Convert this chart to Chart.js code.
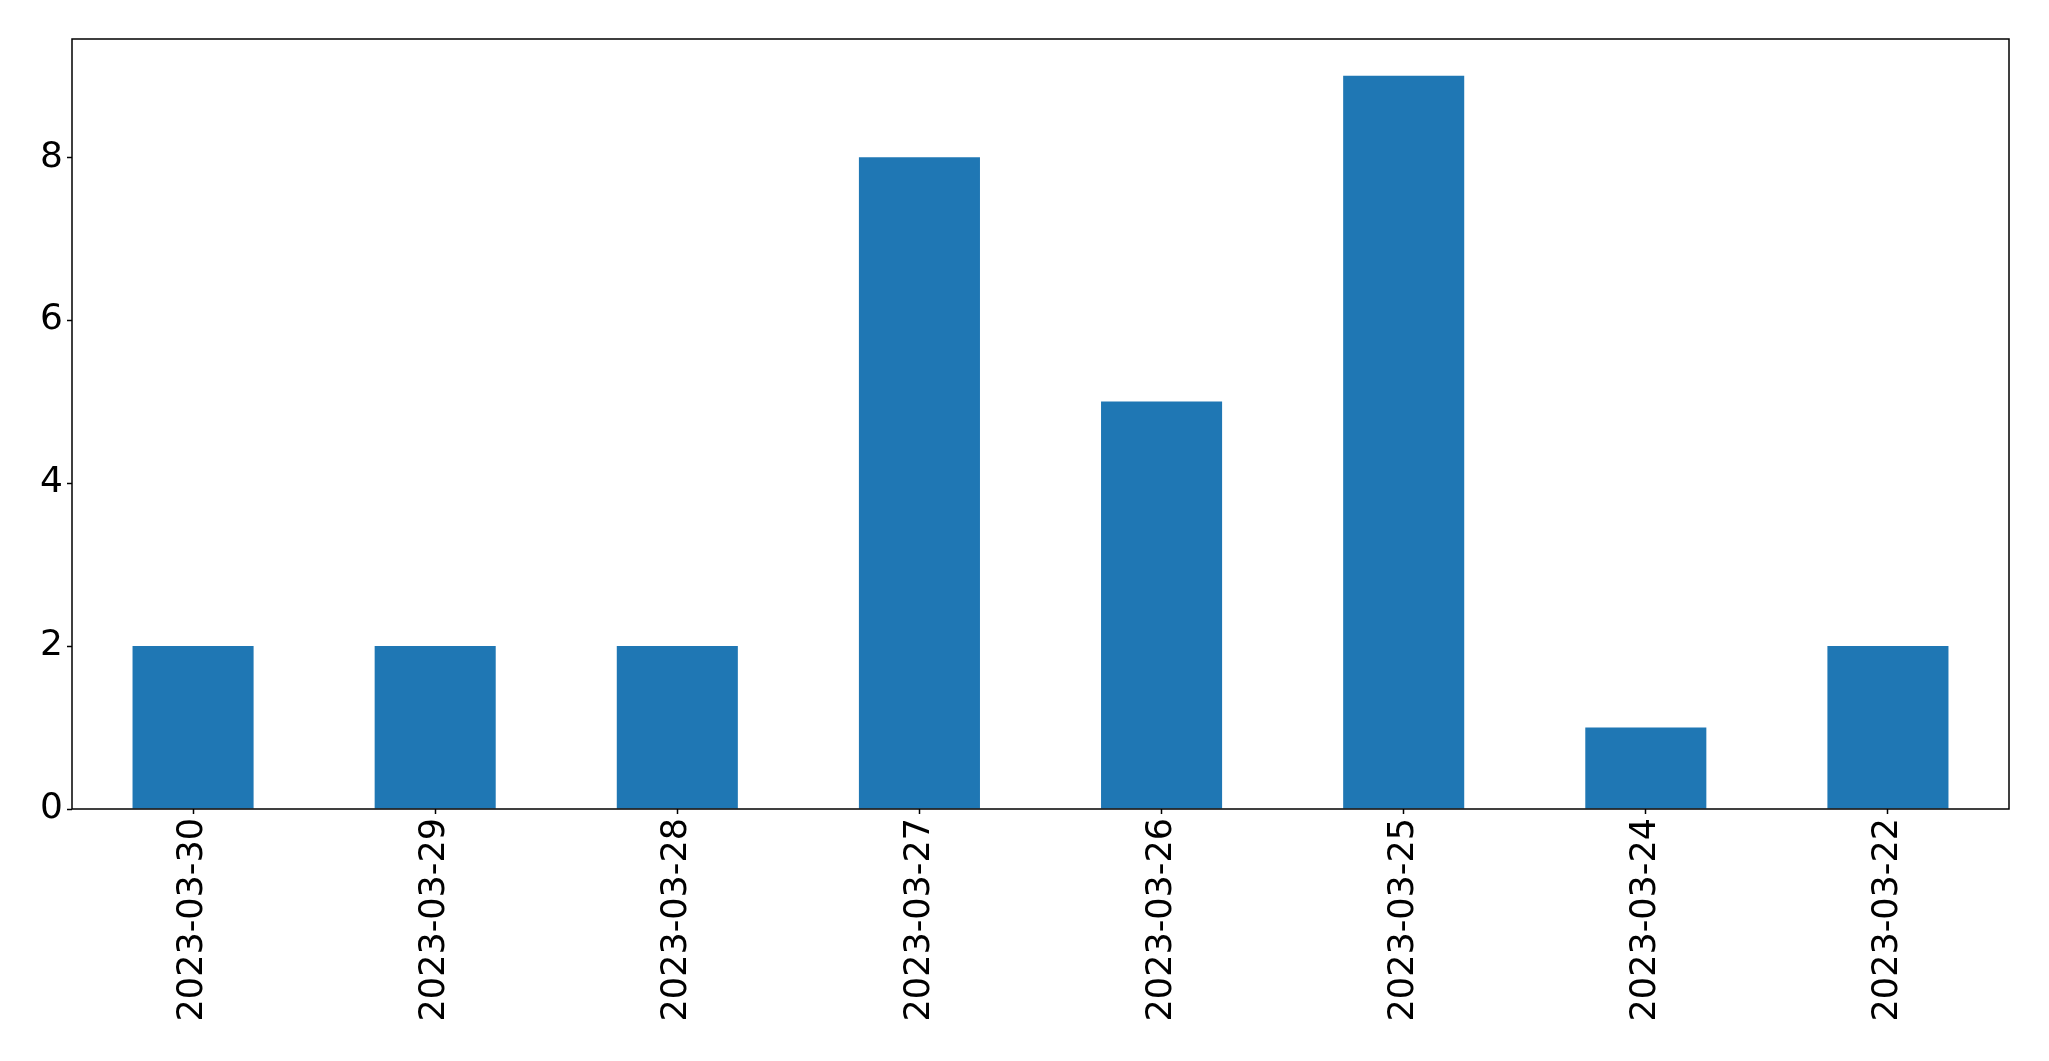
<!DOCTYPE html>
<html>
<head>
<meta charset="utf-8">
<script src="https://cdn.jsdelivr.net/npm/chart.js@4/dist/chart.umd.min.js"></script>
<style>
  body { margin: 0; background: #fff; }
  #wrap { width: 2049px; height: 1061px; }
</style>
</head>
<body>
<div id="wrap"><canvas id="chartBar"></canvas></div>
<script>
  const dates = ['2023-03-30', '2023-03-29', '2023-03-28', '2023-03-27', '2023-03-26', '2023-03-25', '2023-03-24', '2023-03-22'];
  const counts = [2, 2, 2, 8, 5, 9, 1, 2];
  const yTicks = [0, 2, 4, 6, 8];

  // frame round the plot area, like matplotlib spines
  const frame = {
    id: 'frame',
    afterDraw(chart) {
      const { ctx, chartArea: a } = chart;
      ctx.save();
      ctx.strokeStyle = '#000';
      ctx.lineWidth = 1.5;
      ctx.strokeRect(a.left, a.top, a.right - a.left, a.bottom - a.top);
      ctx.restore();
    }
  };

  const ctxBar = document.getElementById('chartBar');

  new Chart(ctxBar, {
    type: 'bar',
    data: {
      labels: dates,
      datasets: [{
        data: counts,
        backgroundColor: '#1f77b4',
        borderWidth: 0,
        categoryPercentage: 0.5,
        barPercentage: 1.0
      }]
    },
    options: {
      responsive: true,
      maintainAspectRatio: false,
      animation: false,
      layout: { padding: { top: 39, right: 40, left: 0, bottom: 0 } },
      plugins: { legend: { display: false }, tooltip: { enabled: false } },
      scales: {
        x: {
          offset: true,
          grid: { offset: false, drawOnChartArea: false, drawTicks: true, tickLength: 5, tickColor: '#000', tickWidth: 1.5 },
          border: { display: false },
          ticks: {
            color: '#000',
            font: { family: 'DejaVu Sans', size: 35 },
            minRotation: 90,
            maxRotation: 90,
            padding: 4,
            autoSkip: false
          },
          afterFit(scale) { scale.height = 252; }
        },
        y: {
          min: 0,
          max: 9.45,
          grid: { drawOnChartArea: false, drawTicks: true, tickLength: 5, tickColor: '#000', tickWidth: 1.5 },
          border: { display: false },
          ticks: {
            color: '#000',
            font: { family: 'DejaVu Sans', size: 36 },
            padding: 4
          },
          afterBuildTicks(scale) { scale.ticks = yTicks.map(v => ({ value: v })); },
          afterFit(scale) { scale.width = 72; }
        }
      }
    },
    plugins: [frame]
  });
</script>
</body>
</html>
